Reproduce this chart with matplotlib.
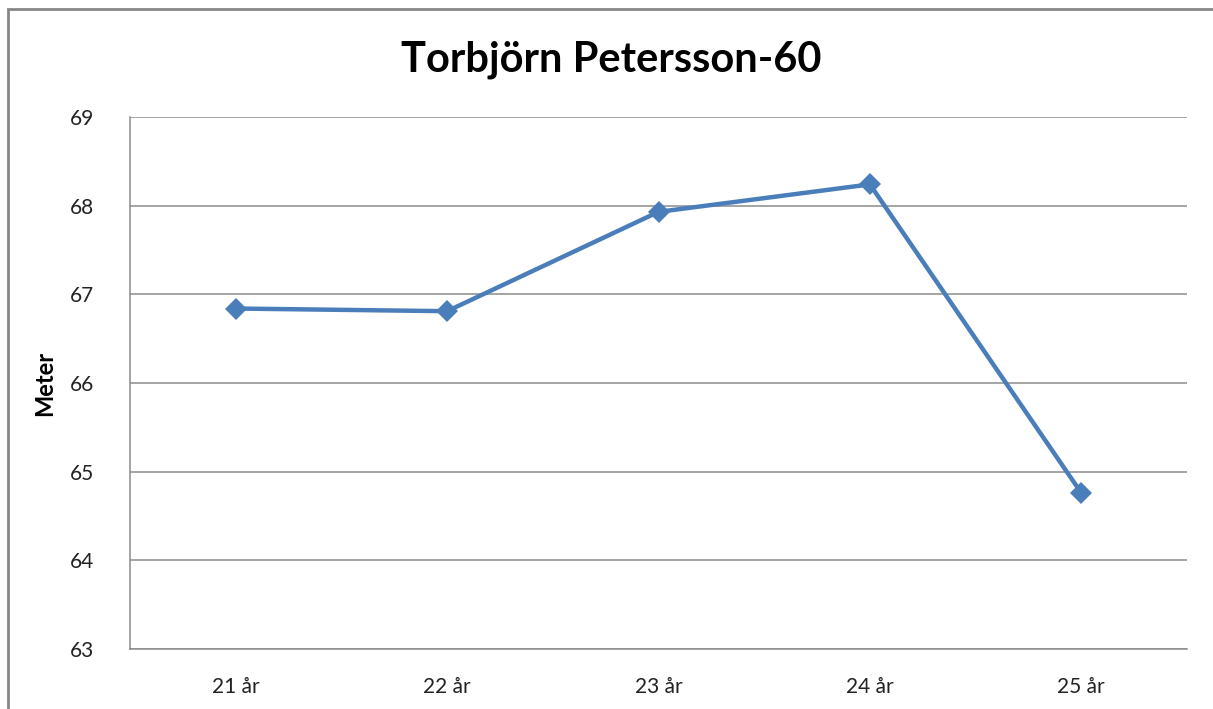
import numpy as np
import matplotlib.pyplot as plt
from matplotlib.patches import Rectangle

# data
categories = ["21 år", "22 år", "23 år", "24 år", "25 år"]
meter = [66.84, 66.81, 67.93, 68.24, 64.76]
yticks = [63, 64, 65, 66, 67, 68, 69]

W, H = 1213, 709
fig = plt.figure(figsize=(W / 100, H / 100), dpi=100)
plt.rcParams['font.family'] = ['Lato', 'DejaVu Sans']

# plot area in pixels: left 130, right 1187, top 117, bottom 649
ax = fig.add_axes([130 / W, 1 - 649 / H, (1187 - 130) / W, (649 - 117) / H])

# outer chart frame (cropped at right and bottom in the reference)
fig.patches.append(Rectangle((8 / W, -0.1), 1.2, 1 - 9 / H + 0.1,
                             transform=fig.transFigure, fill=False,
                             edgecolor='#878787', linewidth=2, clip_on=False))

x = np.arange(len(categories))
ax.plot(x, meter, color='#4a7ebb', linewidth=3.2, marker='D', markersize=11.5,
        markeredgewidth=0, zorder=3)

ax.set_xlim(-0.5, len(categories) - 0.5)
ax.set_ylim(63, 69)
ax.set_yticks(yticks)
ax.set_xticks(x)
ax.set_xticklabels(categories)
ax.yaxis.grid(True, color='#8c8c8c', linewidth=1.1)
ax.set_axisbelow(True)

for s in ['top', 'right']:
    ax.spines[s].set_visible(False)
for s in ['left', 'bottom']:
    ax.spines[s].set_color('#8c8c8c')
    ax.spines[s].set_linewidth(1.1)

ax.tick_params(axis='both', length=0, labelsize=15, colors='#222222')
ax.tick_params(axis='y', pad=26)
ax.tick_params(axis='x', pad=20)

ax.set_ylabel("Meter", fontsize=17, fontweight='bold', labelpad=10)
fig.text(611 / W, 1 - 60 / H, "Torbjörn Petersson-60", ha='center', va='center',
         fontsize=30, fontweight='bold')

fig.savefig("out.png", dpi=100)
